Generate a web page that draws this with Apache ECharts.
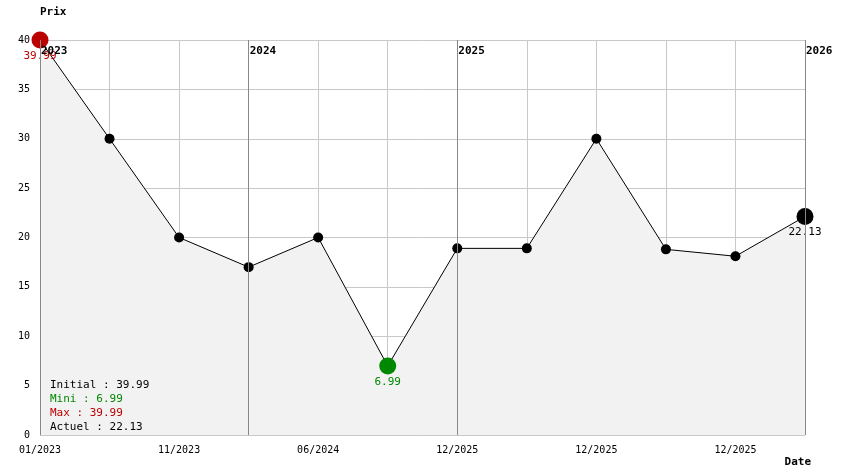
<!DOCTYPE html>
<html>
<head>
<meta charset="utf-8">
<script src="https://cdn.jsdelivr.net/npm/echarts@6/dist/echarts.min.js"></script>
<style>html,body{margin:0;padding:0;background:#fff}#chart{width:844px;height:474px}</style>
</head>
<body>
<div id="chart"></div>
<script>
// Data
var categories = ['01/2023', '06/2023', '11/2023', '02/2024', '06/2024', '09/2024',
                  '12/2025', '12/2025', '12/2025', '12/2025', '12/2025', '01/2026'];
var prices = [39.99, 30, 20, 17, 20, 6.99, 18.9, 18.9, 30, 18.8, 18.1, 22.13];
var yearIndex = [0, 3, 6, 11];
var yearLabels = ['2023', '2024', '2025', '2026'];
var summaryLines = ['Initial : 39.99', 'Mini : 6.99', 'Max : 39.99', 'Actuel : 22.13'];
var summaryColors = ['#000', '#008800', '#bb0000', '#000'];

var font = '"DejaVu Sans Mono", monospace';
var minIdx = prices.indexOf(Math.min.apply(null, prices));
var maxIdx = prices.indexOf(Math.max.apply(null, prices));
var lastIdx = prices.length - 1;

var seriesData = prices.map(function (v, i) {
  var item = { value: v };
  if (i === maxIdx) {
    item.symbolSize = 17;
    item.itemStyle = { color: '#bb0000' };
    item.label = { show: true, position: 'bottom', distance: 2, color: '#bb0000' };
  } else if (i === minIdx) {
    item.symbolSize = 17;
    item.itemStyle = { color: '#008800' };
    item.label = { show: true, position: 'bottom', distance: 2, color: '#008800' };
  } else if (i === lastIdx) {
    item.symbolSize = 17;
    item.label = { show: true, position: 'bottom', distance: 2, color: '#000' };
  }
  return item;
});

var chart = echarts.init(document.getElementById('chart'));
chart.setOption({
  animation: false,
  textStyle: { fontFamily: font },
  grid: { left: 40, right: 39, top: 40, bottom: 39 },
  xAxis: {
    type: 'category',
    data: categories,
    boundaryGap: false,
    name: 'Date',
    nameLocation: 'end',
    nameGap: 0,
    nameTextStyle: { fontWeight: 'bold', fontSize: 11, color: '#000', verticalAlign: 'top', align: 'right', padding: [22, -6, 0, 0] },
    axisLine: { show: false },
    axisTick: { show: false },
    axisLabel: { interval: 1, color: '#000', fontSize: 10, margin: 10 },
    splitLine: { show: true, interval: 0, lineStyle: { color: '#c8c8c8' } }
  },
  yAxis: {
    type: 'value',
    min: 0, max: 40, interval: 5,
    name: 'Prix',
    nameGap: 22,
    nameTextStyle: { fontWeight: 'bold', fontSize: 11, color: '#000', align: 'left' },
    axisLine: { show: false },
    axisTick: { show: false },
    axisLabel: { color: '#000', fontSize: 10, margin: 10 },
    splitLine: { lineStyle: { color: '#c8c8c8' } }
  },
  graphic: summaryLines.map(function (t, i) {
    return {
      type: 'text', left: 50, top: 380 + i * 14, z: 100,
      style: { text: t, fill: summaryColors[i], fontSize: 11, fontFamily: font }
    };
  }),
  series: [{
    type: 'line',
    data: seriesData,
    symbol: 'circle',
    symbolSize: 10,
    itemStyle: { color: '#000' },
    lineStyle: { color: '#000', width: 1 },
    areaStyle: { color: '#f2f2f2', opacity: 1 },
    label: { fontSize: 11, fontFamily: font },
    markLine: {
      silent: true,
      symbol: 'none',
      lineStyle: { color: '#888', type: 'solid', width: 1 },
      label: {
        position: 'end',
        formatter: function (p) { return p.name; },
        color: '#000', fontWeight: 'bold', fontSize: 11, fontFamily: font,
        align: 'left', offset: [1, 22]
      },
      data: yearIndex.map(function (idx, k) {
        return { name: yearLabels[k], xAxis: idx };
      })
    }
  }]
});
</script>
</body>
</html>
